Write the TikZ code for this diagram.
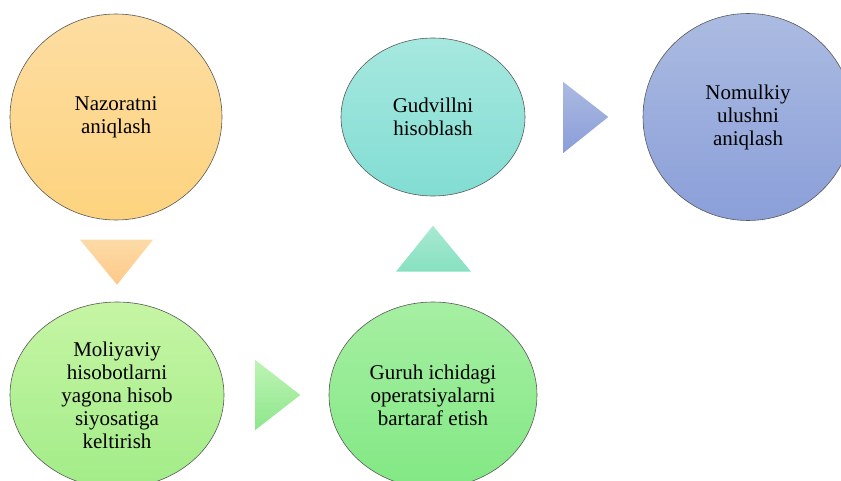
\documentclass[tikz,border=0pt]{standalone}
\usepackage{fontspec}
\setmainfont{Liberation Serif}
\usetikzlibrary{calc, positioning, shapes.geometric}

\definecolor{nazTop}{HTML}{FDDDA2}
\definecolor{nazBot}{HTML}{FDD37E}
\definecolor{orTop}{HTML}{FDDBA6}
\definecolor{orBot}{HTML}{FDC98A}
\definecolor{molTop}{HTML}{C6F5A4}
\definecolor{molBot}{HTML}{A2EC88}
\definecolor{grTop}{HTML}{BDF4B4}
\definecolor{grBot}{HTML}{8EE68C}
\definecolor{gurTop}{HTML}{A6EFA2}
\definecolor{gurBot}{HTML}{82E884}
\definecolor{tlTop}{HTML}{A9E9D2}
\definecolor{tlBot}{HTML}{86E1C0}
\definecolor{gudTop}{HTML}{A6E8DF}
\definecolor{gudBot}{HTML}{82DDD3}
\definecolor{blTop}{HTML}{ABBAE1}
\definecolor{blBot}{HTML}{8A9DD9}
\definecolor{nomTop}{HTML}{ABBBE1}
\definecolor{nomBot}{HTML}{8B9FD9}

\begin{document}
\begin{tikzpicture}[
    x=1pt, y=1pt,
    font=\fontsize{21}{23}\selectfont,
    stage/.style={draw=gray!70!black, line width=0.6pt, ellipse, inner sep=0pt, align=center},
    pointer/.style={draw=none}
]
    \useasboundingbox (0,0) rectangle (841,480);
    \begin{scope}
    \clip (0,0) rectangle (841,480);

    % Stages
    \node[stage, minimum width=212, minimum height=206, top color=nazTop, bottom color=nazBot] (nazorat) at (116, 363) {Nazoratni\\aniqlash};
    \node[stage, minimum width=214, minimum height=186, top color=molTop, bottom color=molBot] (moliya) at (117, 85) {Moliyaviy\\hisobotlarni\\yagona hisob\\siyosatiga\\keltirish};
    \node[stage, minimum width=208, minimum height=186, top color=gurTop, bottom color=gurBot] (guruh) at (433, 85) {Guruh ichidagi\\operatsiyalarni\\bartaraf etish};
    \node[stage, minimum width=184, minimum height=158, top color=gudTop, bottom color=gudBot] (gudvill) at (433, 363) {Gudvillni\\hisoblash};
    \node[stage, minimum width=210, minimum height=207, top color=nomTop, bottom color=nomBot] (nomulk) at (748, 363) {Nomulkiy\\ulushni\\aniqlash};

    % Pointers between stages
    \shade[pointer, top color=orTop, bottom color=orBot]
        ($(moliya.north)+(-37,62)$) -- ($(moliya.north)+(36,62)$) -- ($(moliya.north)+(0,17)$) -- cycle;
    \shade[pointer, top color=grTop, bottom color=grBot]
        ($(moliya.east)+(31,35)$) -- ($(moliya.east)+(76,0)$) -- ($(moliya.east)+(31,-35)$) -- cycle;
    \shade[pointer, top color=tlTop, bottom color=tlBot]
        ($(guruh.north)+(-37,30)$) -- ($(guruh.north)+(0,76)$) -- ($(guruh.north)+(38,30)$) -- cycle;
    \shade[pointer, top color=blTop, bottom color=blBot]
        ($(gudvill.east)+(38,35)$) -- ($(gudvill.east)+(83,0)$) -- ($(gudvill.east)+(38,-36)$) -- cycle;
    \end{scope}
\end{tikzpicture}
\end{document}
